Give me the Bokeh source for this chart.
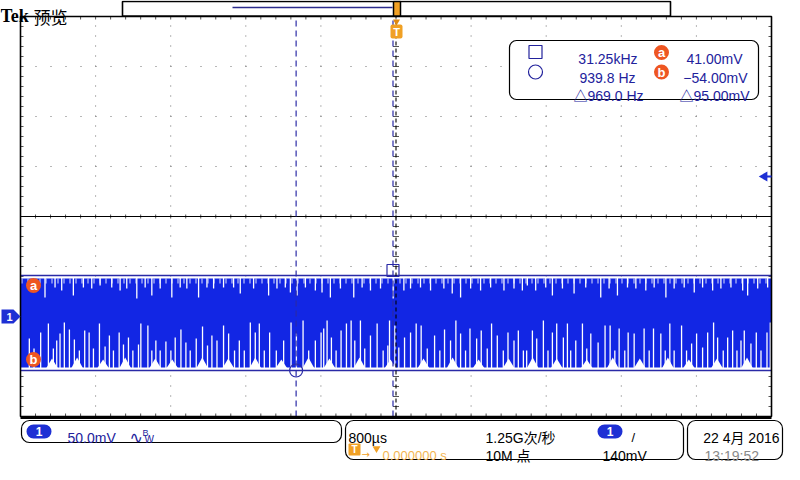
import numpy as np
from bokeh.plotting import figure
from bokeh.models import Range1d
from bokeh.embed import file_html
from bokeh.resources import INLINE
from bokeh.core.properties import value

time_div_us = 800.0          # 800 µs / div
n_hdiv = 10
volt_div_mv = 50.0           # 50.0 mV / div
n_vdiv = 8
screen_top_mv = 300.0        # channel 1 ground is 2 div below centre
screen_bottom_mv = -100.0
ground_mv = 0.0

cursor_a_mv = 41.0
cursor_b_mv = -54.0
cursor_sq_us = -32.0         # 1/31.25 kHz
cursor_circ_us = -1064.0     # 1/939.8 Hz
trigger_level_mv = 140.0

wave_hi_mv = 38.0
wave_lo_mv = -51.0

# white gaps hanging from the top of the waveform band
top_gap_us = [-3739, -3632, -3561, -3437, -3330, -3241, -3152, -3028, -2939, -2868,
              -2761, -2672, -2601, -2512, -2388, -2299, -2228, -2103, -2014, -1943,
              -1837, -1730, -1659, -1517, -1357, -1268, -1179, -1125, -1054, -965,
              -859, -788, -699, -592, -450, -361, -272, -165, -30, 84,
              155, 261, 368, 510, 599, 688, 795, 901, 1008, 1150,
              1257, 1346, 1399, 1488, 1595, 1666, 1773, 1897, 2021, 2181,
              2270, 2359, 2466, 2555, 2661, 2750, 2875, 2963, 3070, 3177,
              3266, 3373, 3461, 3568, 3693, 3746, 3853, 3959]
top_gap_mv = [19, 29, 26, 21, 29, 28, 31, 29, 26, 28,
              18, 29, 21, 28, 19, 29, 28, 19, 29, 28,
              29, 29, 23, 28, 21, 28, 29, 24, 21, 29,
              26, 24, 19, 28, 19, 29, 26, 28, 18, 26,
              28, 29, 26, 28, 23, 19, 28, 26, 29, 26,
              28, 26, 31, 26, 29, 21, 28, 23, 29, 19,
              28, 21, 29, 28, 26, 29, 19, 28, 29, 24,
              29, 26, 28, 29, 26, 21, 28, 29]

# white slits rising from the bottom of the waveform band
slit_us = [-3906, -3856, -3785, -3703, -3650, -3614, -3579, -3533, -3479, -3426,
           -3373, -3316, -3269, -3223, -3159, -3099, -3053, -3010, -2949, -2903,
           -2850, -2803, -2743, -2718, -2643, -2601, -2558, -2512, -2451, -2398,
           -2352, -2291, -2238, -2192, -2128, -2061, -2008, -1961, -1907, -1837,
           -1783, -1720, -1669, -1616, -1552, -1499, -1456, -1403, -1346, -1275,
           -1197, -1118, -1061, -990, -930, -859, -798, -770, -734, -688,
           -638, -585, -528, -478, -439, -379, -333, -272, -201, -137,
           -87, -69, -12, 30, 91, 155, 215, 268, 333, 411,
           467, 517, 581, 638, 688, 741, 788, 859, 908, 972,
           1018, 1079, 1143, 1193, 1257, 1303, 1357, 1392, 1453, 1499,
           1570, 1619, 1666, 1712, 1783, 1826, 1861, 1915, 1986, 2032,
           2075, 2153, 2227, 2281, 2331, 2377, 2437, 2473, 2537, 2643,
           2697, 2743, 2821, 2868, 2917, 2963, 3042, 3095, 3149, 3202,
           3266, 3320, 3383, 3426, 3486, 3533, 3586, 3632, 3675, 3710,
           3781, 3838, 3888, 3952, 3987]
slit_mv = [-22, -32, -16, -7, -32, -24, -17, -6, -13, -23,
           -34, -14, -16, -32, -7, -30, -19, -34, -16, -28,
           -21, -34, -28, -7, -9, -34, -24, -34, -25, -34,
           -21, -13, -26, -34, -22, -10, -29, -19, -24, -9,
           -17, -34, -24, -34, -6, -16, -7, -34, -16, -34,
           -24, -6, -17, -4, -34, -24, -16, -12, -4, -21,
           -34, -14, -7, -4, -24, -4, -32, -19, -7, -34,
           -29, -4, -9, -31, -21, -16, -7, -9, -32, -19,
           -34, -13, -24, -4, -17, -34, -12, -22, -14, -32,
           -7, -19, -34, -16, -24, -14, -34, -34, -14, -22,
           -4, -34, -16, -7, -21, -7, -34, -24, -7, -32,
           -17, -26, -9, -9, -34, -12, -34, -16, -17, -12,
           -34, -12, -17, -34, -7, -34, -9, -34, -27, -17,
           -31, -16, -6, -21, -34, -21, -14, -34, -24, -14,
           -27, -16, -34, -16, -6]

# small white humps along the bottom edge of the band
hump_us = [-3664, -3397, -3120, -2885, -2565, -2384, -2064, -1787, -1499, -1221,
           -933, -709, -389, -59, 293, 603, 880, 1200, 1456, 1712,
           2032, 2309, 2597, 2896, 3120, 3419, 3739]
hump_mv = [-42, -41, -43, -41, -42, -43, -41, -42, -41, -43,
           -41, -42, -41, -43, -42, -41, -43, -42, -41, -42,
           -43, -41, -42, -41, -43, -42, -41]

readout_freq = ["31.25kHz", "939.8 Hz", "\u25b3969.0 Hz"]
readout_volt = ["41.00mV", "\u221254.00mV", "\u25b395.00mV"]
ch_scale_txt = "50.0mV"
time_scale_txt = "800\u00b5s"
trig_pos_txt = "0.000000 s"
sample_rate_txt = "1.25G次/秒"
record_len_txt = "10M 点"
trig_level_txt = "140mV"
date_txt = "22 4月 2016"
clock_txt = "13:19:52"
header_brand = "Tek"
header_mode = "预览"

# ---------------- layout helpers (reference pixels -> data) ----------------
W, H = 784, 464
OFF = 0.0
GL, GR, GT, GB = 20.0, 771.0, 16.0, 416.0
T0 = -n_hdiv / 2 * time_div_us
T1 = n_hdiv / 2 * time_div_us
KX = (T1 - T0) / (GR - GL)
KY = (screen_top_mv - screen_bottom_mv) / (GB - GT)


def X(px):
    return T0 + (px - GL) * KX


def Y(py):
    return screen_top_mv - (py - GT) * KY


WAVE = "#1226e4"
CUR = "#2a2aa6"
TXT_BLUE = "#22229c"
ORANGE = "#ee5622"
TRIG = "#f0a024"
PILL = "#1e30d4"
GRID = "#707070"
SANS = value("Liberation Sans, Noto Sans CJK SC, DejaVu Sans")

p = figure(width=W, height=H, x_range=Range1d(X(OFF), X(OFF + W)),
           y_range=Range1d(Y(OFF + H), Y(OFF)), toolbar_location=None,
           output_backend="svg", x_axis_type=None, y_axis_type=None,
           min_border=0, title=None)
p.outline_line_color = None
p.background_fill_color = "white"
p.border_fill_color = "white"

# ---------------- graticule ----------------
vx = [T0 + i * time_div_us for i in range(1, n_hdiv) if i != n_hdiv // 2]
p.segment(x0=vx, y0=[screen_bottom_mv] * len(vx), x1=vx, y1=[screen_top_mv] * len(vx),
          line_color=GRID, line_width=1, line_dash="1 9")
hy = [screen_bottom_mv + j * volt_div_mv for j in range(1, n_vdiv) if j != n_vdiv // 2]
p.segment(x0=[T0] * len(hy), y0=hy, x1=[T1] * len(hy), y1=hy,
          line_color=GRID, line_width=1, line_dash="1 14")

mid_mv = (screen_top_mv + screen_bottom_mv) / 2
tick_t = np.arange(T0, T1 + 1, time_div_us / 5)
tick_v = np.arange(screen_bottom_mv, screen_top_mv + 1, volt_div_mv / 5)
tl = 3 * KY
tw = 3 * KX
for yy, d in [(screen_top_mv, -tl), (screen_bottom_mv, tl)]:
    p.segment(x0=tick_t, y0=[yy] * len(tick_t), x1=tick_t, y1=[yy + d] * len(tick_t),
              line_color="#555555", line_width=1)
p.segment(x0=tick_t, y0=[mid_mv - 2 * KY] * len(tick_t), x1=tick_t,
          y1=[mid_mv + 2 * KY] * len(tick_t), line_color="#555555", line_width=1)
for xx, d in [(T0, tw), (T1, -tw)]:
    p.segment(x0=[xx] * len(tick_v), y0=tick_v, x1=[xx + d] * len(tick_v), y1=tick_v,
              line_color="#555555", line_width=1)
p.segment(x0=[-tw] * len(tick_v), y0=tick_v, x1=[tw] * len(tick_v), y1=tick_v,
          line_color="#555555", line_width=1)

p.segment(x0=[T0], y0=[mid_mv], x1=[T1], y1=[mid_mv], line_color="black", line_width=1)

# ---------------- waveform ----------------
p.quad(left=[T0], right=[T1], bottom=[wave_lo_mv], top=[wave_hi_mv],
       fill_color=WAVE, line_color=None)
p.quad(left=[T0], right=[T1], bottom=[wave_hi_mv - 5], top=[wave_hi_mv],
       fill_color=None, line_color=None, hatch_pattern="vertical_line",
       hatch_color="white", hatch_scale=6, hatch_weight=1, hatch_alpha=0.85)
p.segment(x0=top_gap_us, y0=[wave_hi_mv + 1] * len(top_gap_us), x1=top_gap_us,
          y1=top_gap_mv, line_color="white", line_width=1.3)
p.segment(x0=slit_us, y0=[wave_lo_mv - 1] * len(slit_us), x1=slit_us,
          y1=slit_mv, line_color="white", line_width=1.3)
hw = 6 * KX
p.patches(xs=[[t - hw, t, t + hw] for t in hump_us],
          ys=[[wave_lo_mv - 1, m, wave_lo_mv - 1] for m in hump_mv],
          fill_color="white", line_color=None)

# ---------------- cursors ----------------
p.segment(x0=[T0, T0], y0=[cursor_a_mv, cursor_b_mv], x1=[T1, T1],
          y1=[cursor_a_mv, cursor_b_mv], line_color=CUR, line_width=1.3)
p.segment(x0=[cursor_sq_us, cursor_circ_us], y0=[screen_bottom_mv] * 2,
          x1=[cursor_sq_us, cursor_circ_us], y1=[screen_top_mv] * 2,
          line_color=CUR, line_width=1.2, line_dash="6 4")
p.segment(x0=[0.0], y0=[screen_bottom_mv], x1=[0.0], y1=[screen_top_mv],
          line_color="black", line_width=1.1, line_dash="4 3")

p.scatter(x=[cursor_sq_us], y=[cursor_a_mv + 5 * KY], marker="square", size=12,
          fill_color=None, line_color=CUR, line_width=1.2)
p.scatter(x=[cursor_circ_us], y=[cursor_b_mv], marker="circle", size=13,
          fill_color=None, line_color=CUR, line_width=1.2)

p.scatter(x=[X(33), X(33)], y=[cursor_a_mv - 10 * KY, cursor_b_mv + 11 * KY],
          marker="circle", size=15, fill_color=ORANGE, line_color=None)
p.text(x=[X(33), X(33)], y=[cursor_a_mv - 10 * KY, cursor_b_mv + 11 * KY],
       text=["a", "b"], text_color="white", text_font=SANS, text_font_size="13px",
       text_font_style="bold", text_align="center", text_baseline="middle")

# graticule border
p.quad(left=[T0], right=[T1], bottom=[screen_bottom_mv], top=[screen_top_mv],
       fill_color=None, line_color="black", line_width=1.6)
p.segment(x0=[T0], y0=[screen_bottom_mv - 1 * KY], x1=[T1], y1=[screen_bottom_mv - 1 * KY],
          line_color="black", line_width=3)

# channel 1 ground marker (left)
p.patch(x=[X(1), X(13), X(20), X(13), X(1)],
        y=[ground_mv + 7 * KY, ground_mv + 7 * KY, ground_mv, ground_mv - 7 * KY, ground_mv - 7 * KY],
        fill_color=PILL, line_color=None)
p.text(x=[X(9)], y=[ground_mv], text=["1"], text_color="white", text_font=SANS,
       text_font_size="11px", text_font_style="bold", text_align="center", text_baseline="middle")

# trigger level arrow (right)
p.segment(x0=[X(763)], y0=[trigger_level_mv], x1=[T1], y1=[trigger_level_mv],
          line_color=PILL, line_width=2)
p.scatter(x=[X(764)], y=[trigger_level_mv], marker="triangle", angle=np.pi / 2, size=10,
          fill_color=PILL, line_color=None)

# trigger position marker (top)
p.quad(left=[X(390)], right=[X(402)], top=[Y(24)], bottom=[Y(38)], fill_color=TRIG,
       line_color=None, border_radius=2)
p.text(x=[X(396)], y=[Y(31.5)], text=["T"], text_color="white", text_font=SANS,
       text_font_size="11px", text_font_style="bold", text_align="center", text_baseline="middle")
p.scatter(x=[X(396)], y=[Y(21)], marker="inverted_triangle", size=7, fill_color="#e08a10",
          line_color=None)

# ---------------- header ----------------
p.quad(left=[X(122)], right=[X(670)], top=[Y(1)], bottom=[Y(15.5)], fill_color="white",
       line_color="black", line_width=1.6)
p.segment(x0=[X(232)], y0=[Y(7)], x1=[X(392)], y1=[Y(7)], line_color="#2a2a8c", line_width=1.3)
p.quad(left=[X(393)], right=[X(400)], top=[Y(1)], bottom=[Y(15.5)], fill_color=TRIG,
       line_color="black", line_width=1.5)
p.text(x=[X(0)], y=[Y(15)], text=[header_brand], text_color="black",
       text_font=value("Liberation Serif"), text_font_size="18px", text_font_style="bold",
       text_baseline="alphabetic")
p.text(x=[X(33)], y=[Y(15.5)], text=[header_mode], text_color="black",
       text_font=value("Noto Sans CJK SC"), text_font_size="17px", text_baseline="alphabetic")

# ---------------- cursor readout box ----------------
p.quad(left=[X(509)], right=[X(758)], top=[Y(40)], bottom=[Y(99)], fill_color="white",
       line_color="black", line_width=1.2, border_radius=7)
p.scatter(x=[X(535)], y=[Y(51.5)], marker="square", size=13, fill_color=None,
          line_color=TXT_BLUE, line_width=1.2)
p.scatter(x=[X(535)], y=[Y(71.5)], marker="circle", size=14, fill_color=None,
          line_color=TXT_BLUE, line_width=1.2)
p.scatter(x=[X(661), X(661)], y=[Y(52), Y(71.5)], marker="circle", size=15,
          fill_color=ORANGE, line_color=None)
p.text(x=[X(661), X(661)], y=[Y(52), Y(71.5)], text=["a", "b"], text_color="white",
       text_font=SANS, text_font_size="13px", text_font_style="bold",
       text_align="center", text_baseline="middle")
p.text(x=[X(637), X(635), X(643)], y=[Y(58), Y(77), Y(95.5)], text=readout_freq,
       text_color=TXT_BLUE, text_font=SANS, text_font_size="14px", text_align="right",
       text_baseline="alphabetic")
p.text(x=[X(742), X(747), X(749)], y=[Y(58), Y(77), Y(95.5)], text=readout_volt,
       text_color=TXT_BLUE, text_font=SANS, text_font_size="14px", text_align="right",
       text_baseline="alphabetic")

# ---------------- status bar ----------------
p.quad(left=[X(21), X(345), X(687)], right=[X(341), X(683), X(782)],
       top=[Y(420), Y(420), Y(420)], bottom=[Y(442), Y(459), Y(459)],
       fill_color="white", line_color="black", line_width=1.2, border_radius=8)
p.quad(left=[X(26), X(597)], right=[X(51), X(622)], top=[Y(424), Y(424)],
       bottom=[Y(438), Y(438)], fill_color=PILL, line_color=None, border_radius=7)
p.text(x=[X(38.5), X(609.5)], y=[Y(431), Y(431)], text=["1", "1"], text_color="white",
       text_font=SANS, text_font_size="12px", text_font_style="bold",
       text_align="center", text_baseline="middle")
p.text(x=[X(67)], y=[Y(437)], text=[ch_scale_txt], text_color=TXT_BLUE, text_font=SANS,
       text_font_size="14px", text_baseline="alphabetic")
p.text(x=[X(129)], y=[Y(437)], text=["\u223f"], text_color=TXT_BLUE,
       text_font=value("DejaVu Sans"), text_font_size="16px", text_baseline="alphabetic")
p.text(x=[X(142)], y=[Y(432)], text=["B"], text_color=TXT_BLUE, text_font=SANS,
       text_font_size="9px", text_baseline="alphabetic")
p.text(x=[X(144)], y=[Y(439)], text=["W"], text_color=TXT_BLUE, text_font=SANS,
       text_font_size="10px", text_baseline="alphabetic")

p.text(x=[X(348), X(485), X(485), X(602)],
       y=[Y(437), Y(437), Y(455), Y(455)],
       text=[time_scale_txt, sample_rate_txt, record_len_txt, trig_level_txt],
       text_color="black", text_font=SANS, text_font_size="14px", text_baseline="alphabetic")
p.text(x=[X(779)], y=[Y(437)], text=[date_txt], text_color="black", text_font=SANS,
       text_font_size="14px", text_align="right", text_baseline="alphabetic")
p.text(x=[X(704)], y=[Y(455)], text=[clock_txt], text_color="#8a8a8a", text_font=SANS,
       text_font_size="14px", text_baseline="alphabetic")
p.text(x=[X(631)], y=[Y(437)], text=["/"], text_color="black", text_font=SANS,
       text_font_size="13px", text_baseline="alphabetic")

p.quad(left=[X(348)], right=[X(360)], top=[Y(443)], bottom=[Y(455)], fill_color=TRIG,
       line_color=None, border_radius=1)
p.text(x=[X(354)], y=[Y(449)], text=["T"], text_color="white", text_font=SANS,
       text_font_size="10px", text_font_style="bold", text_align="center", text_baseline="middle")
p.text(x=[X(361)], y=[Y(454)], text=["\u2192"], text_color=TRIG, text_font=value("DejaVu Sans"),
       text_font_size="10px", text_baseline="alphabetic")
p.scatter(x=[X(376)], y=[Y(448)], marker="inverted_triangle", size=8, fill_color=TRIG,
          line_color=None)
p.text(x=[X(382)], y=[Y(455)], text=[trig_pos_txt], text_color="#f2b450", text_font=SANS,
       text_font_size="13px", text_baseline="alphabetic")

open("out.html", "w").write(file_html(p, INLINE))
